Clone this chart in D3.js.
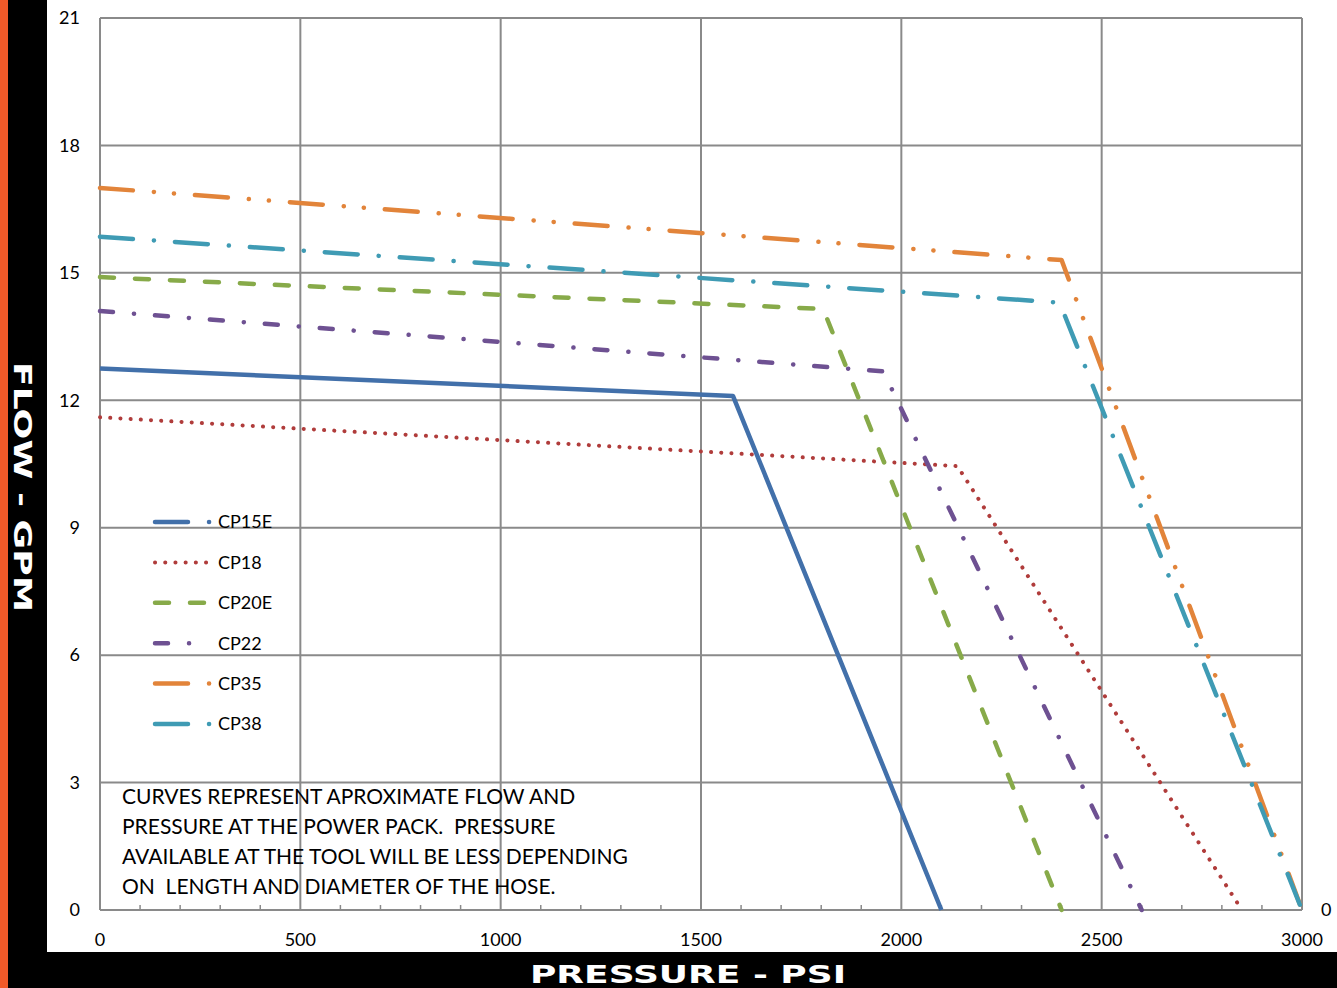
<!DOCTYPE html>
<html>
<head>
<meta charset="utf-8">
<script src="https://cdn.jsdelivr.net/npm/d3@7"></script>
<style>
  body { margin: 0; background: #fff; }
  svg { display: block; }
</style>
</head>
<body>
<div id="chart"></div>
<script>
const W = 1337, H = 988;

// data
const pressureTicks = [0, 500, 1000, 1500, 2000, 2500, 3000];
const flowTicks = [0, 3, 6, 9, 12, 15, 18, 21];
const seriesNames = ["CP15E", "CP18", "CP20E", "CP22", "CP35", "CP38"];
const cp15e = [[0, 12.75], [1580, 12.1], [2100, 0]];
const cp18 = [[0, 11.6], [2140, 10.45], [2850, 0]];
const cp20e = [[0, 14.9], [1805, 14.15], [2400, 0]];
const cp22 = [[0, 14.1], [1955, 12.68], [2600, 0]];
const cp35 = [[0, 17.0], [2400, 15.3], [3000, 0]];
const cp38 = [[0, 15.85], [2395, 14.3], [3000, 0]];
const noteLines = [
  "CURVES REPRESENT APROXIMATE FLOW AND",
  "PRESSURE AT THE POWER PACK.  PRESSURE",
  "AVAILABLE AT THE TOOL WILL BE LESS DEPENDING",
  "ON  LENGTH AND DIAMETER OF THE HOSE."
];

const series = [
  { name: seriesNames[0], pts: cp15e, color: "#4270aa", dash: null, legDash: "33 21 0.1 200" },
  { name: seriesNames[1], pts: cp18, color: "#b03c3b", dash: "0.1 10.1", w: 4 },
  { name: seriesNames[2], pts: cp20e, color: "#87aa49", dash: "14 21" },
  { name: seriesNames[3], pts: cp22, color: "#6e5192", dash: "13 21 0.1 21" },
  { name: seriesNames[4], pts: cp35, color: "#e2843a", dash: "33 21 0.1 20 0.1 21" },
  { name: seriesNames[5], pts: cp38, color: "#3f9bb4", dash: "33 21 0.1 21" }
];

const svg = d3.select("#chart").append("svg")
  .attr("width", W).attr("height", H);

// frame: orange strip, black bands
svg.append("rect").attr("x", 0).attr("y", 0).attr("width", 8).attr("height", H).attr("fill", "#f15a29");
svg.append("rect").attr("x", 8).attr("y", 0).attr("width", 39).attr("height", H).attr("fill", "#000");
svg.append("rect").attr("x", 8).attr("y", 952).attr("width", W - 8).attr("height", 36).attr("fill", "#000");

const x = d3.scaleLinear().domain([0, 3000]).range([100, 1302]);
const y = d3.scaleLinear().domain([0, 21]).range([910, 18]);

const grid = svg.append("g");
grid.selectAll(".gx").data(pressureTicks).enter().append("line")
  .attr("x1", d => x(d)).attr("x2", d => x(d))
  .attr("y1", y(21)).attr("y2", y(0))
  .attr("stroke", "#8a8a8a").attr("stroke-width", 2);
grid.selectAll(".gy").data(flowTicks).enter().append("line")
  .attr("x1", x(0)).attr("x2", x(3000))
  .attr("y1", d => y(d)).attr("y2", d => y(d))
  .attr("stroke", "#8a8a8a").attr("stroke-width", 2);

// minor ticks on the pressure axis
grid.selectAll(".mt").data(d3.range(100, 3000, 100).filter(d => d % 500 !== 0)).enter().append("line")
  .attr("x1", d => x(d)).attr("x2", d => x(d))
  .attr("y1", y(0) - 5).attr("y2", y(0))
  .attr("stroke", "#8a8a8a").attr("stroke-width", 1.5);

const font = "Lato, 'Open Sans', sans-serif";

svg.selectAll(".yl").data(flowTicks).enter().append("text")
  .attr("x", 80).attr("y", d => y(d)).attr("dy", "0.35em")
  .attr("text-anchor", "end").style("font-family", font).style("font-size", "18px")
  .text(d => d);

svg.selectAll(".xl").data(pressureTicks).enter().append("text")
  .attr("x", d => x(d)).attr("y", 946)
  .attr("text-anchor", "middle").style("font-family", font).style("font-size", "18px")
  .text(d => d);

// lone "0" of the secondary axis
svg.append("text").attr("x", 1321).attr("y", y(0)).attr("dy", "0.35em")
  .style("font-family", font).style("font-size", "18px").text(flowTicks[0]);

const line = d3.line().x(d => x(d[0])).y(d => y(d[1]));

svg.selectAll(".series").data(series).enter().append("path")
  .attr("d", d => line(d.pts))
  .attr("fill", "none")
  .attr("stroke", d => d.color)
  .attr("stroke-width", d => d.w || 4.5)
  .attr("stroke-linecap", d => d.dash ? "round" : "butt")
  .attr("stroke-linejoin", "round")
  .attr("stroke-dasharray", d => d.dash);

// legend
const legend = svg.selectAll(".legend").data(series).enter().append("g")
  .attr("transform", (d, i) => `translate(0,${522 + i * 40.4})`);
legend.append("line")
  .attr("x1", 155).attr("x2", 210).attr("y1", 0).attr("y2", 0)
  .attr("stroke", d => d.color)
  .attr("stroke-width", d => d.w || 4.5)
  .attr("stroke-linecap", "round")
  .attr("stroke-dasharray", d => d.legDash || d.dash);
legend.append("text")
  .attr("x", 218).attr("y", 0).attr("dy", "0.35em")
  .style("font-family", font).style("font-size", "18px")
  .text(d => d.name);

// note
svg.selectAll(".note").data(noteLines).enter().append("text")
  .attr("x", 122).attr("y", (d, i) => 797 + i * 30).attr("dy", "0.35em")
  .style("font-family", font).style("font-size", "21px")
  .style("white-space", "pre")
  .text(d => d);

// axis titles, stretched to look like the wide display face
svg.append("text")
  .attr("transform", "translate(23,487) rotate(90) scale(1.45,1)")
  .attr("text-anchor", "middle").attr("dy", "0.35em")
  .style("font-family", "'DejaVu Sans', sans-serif").style("font-weight", "bold")
  .style("font-size", "25px").style("fill", "#fff")
  .text("FLOW - GPM");
svg.append("text")
  .attr("transform", "translate(688,983) scale(1.5,1)")
  .attr("text-anchor", "middle")
  .style("font-family", "'DejaVu Sans', sans-serif").style("font-weight", "bold")
  .style("font-size", "24px").style("fill", "#fff")
  .text("PRESSURE - PSI");
</script>
</body>
</html>
